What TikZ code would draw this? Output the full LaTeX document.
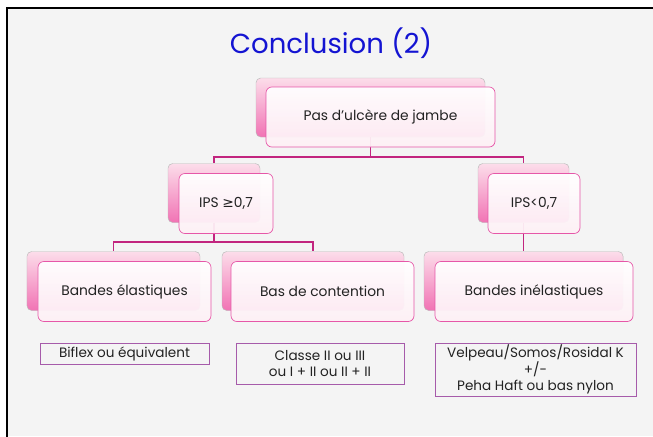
\documentclass[tikz,border=0pt]{standalone}
\usepackage{fontspec}
\setmainfont{Poppins}
\newfontfamily\symbolfont{DejaVu Sans}
\usetikzlibrary{positioning}

\definecolor{slidebg}{HTML}{F4F4F4}
\definecolor{titleblue}{HTML}{1414D2}
\definecolor{linkpink}{HTML}{C2257F}
\definecolor{boxpink}{HTML}{E657A8}
\definecolor{notepurple}{HTML}{A65BAA}
\definecolor{backtop}{HTML}{FCDDEA}
\definecolor{backbot}{HTML}{F173B4}
\definecolor{textgray}{HTML}{222222}

\tikzset{
  backbox/.style={rectangle, rounded corners=4pt, draw=gray!55, line width=0.4pt,
    top color=backtop, bottom color=backbot, minimum height=1.77cm},
  frontbox/.style={rectangle, rounded corners=5pt, draw=boxpink, line width=0.6pt,
    top color=white, bottom color=backtop!45, fill opacity=0.94, text opacity=1,
    minimum height=1.8cm, font=\fontsize{11.8}{14}\selectfont, text=textgray},
  notebox/.style={rectangle, draw=notepurple, line width=0.6pt, align=center,
    inner sep=1pt, font=\fontsize{11.6}{14}\selectfont, text=textgray},
  link/.style={draw=linkpink, line width=1.3pt}
}

\begin{document}
\begin{tikzpicture}[x=0.03cm, y=-0.03cm]
\useasboundingbox (0,0) rectangle (653,436);
% slide
\fill[white] (0,0) rectangle (653,436);
\fill[slidebg] (7,8) rectangle (653,436);
\draw[line width=1.7pt, line cap=rect] (7,436) -- (7,8) -- (653,8);
\node[text=titleblue, font=\fontsize{23.5}{26}\selectfont] (title) at (331,43) {Conclusion (2)};

% back boxes
\node[backbox, minimum width=6.87cm] (ulcb) at (370.5,107.5) {};
\node[backbox, minimum width=2.76cm] (ipshb) at (214,193) {};
\node[backbox, minimum width=2.73cm] (ipslb) at (523.5,193) {};
\node[backbox, minimum width=5.19cm] (elab) at (113.5,281) {};
\node[backbox, minimum width=5.46cm] (basb) at (313,281) {};
\node[backbox, minimum width=5.97cm] (inelb) at (523.5,281) {};

% links
\draw[link] (ulcb.south) -- ++(0,20) -| (ipshb.north);
\draw[link] (ulcb.south) -- ++(0,20) -| (ipslb.north);
\draw[link] (ipshb.south) -- ++(0,19) -| (elab.north);
\draw[link] (ipshb.south) -- ++(0,19) -| (basb.north);
\draw[link] (ipslb.south) -- (inelb.north);

% front boxes
\node[frontbox, minimum width=6.87cm] (ulc) at (380.5,117) {Pas d’ulcère de jambe};
\node[frontbox, minimum width=2.82cm] (ipsh) at (226,203.5) {IPS {\symbolfont ≥}0,7};
\node[frontbox, minimum width=2.76cm] (ipsl) at (534,203.5) {IPS<0,7};
\node[frontbox, minimum width=5.19cm] (ela) at (124.5,291.5) {Bandes élastiques};
\node[frontbox, minimum width=5.49cm] (bas) at (322.5,291.5) {Bas de contention};
\node[frontbox, minimum width=5.94cm] (inel) at (534,291.5) {Bandes inélastiques};

% notes
\node[notebox, minimum width=5.07cm, minimum height=0.63cm] (biflex) at (124.5,353.5) {Biflex ou équivalent};
\node[notebox, minimum width=5.04cm, minimum height=1.23cm] (classe) at (320,363.5) {Classe II ou III\\ou I + II ou II + II};
\node[notebox, minimum width=6.03cm, minimum height=1.59cm] (velpeau) at (535.5,369.5) {Velpeau/Somos/Rosidal K\\+/-\\Peha Haft ou bas nylon};
\end{tikzpicture}
\end{document}
